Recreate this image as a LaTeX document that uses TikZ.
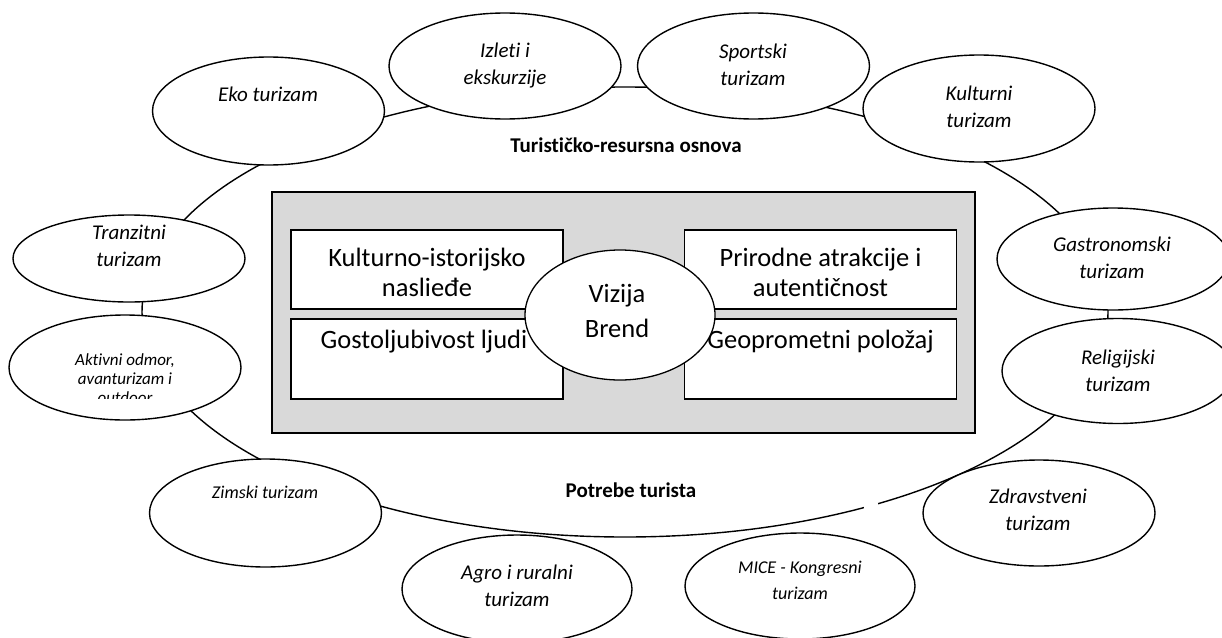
\documentclass[tikz,border=0pt]{standalone}
\usepackage{fontspec}
\setmainfont{Carlito}[Ligatures={NoCommon}]
\usetikzlibrary{shapes.geometric}
\definecolor{panel}{HTML}{D9D9D9}
\begin{document}
\begin{tikzpicture}[x=1pt,y=-1pt,
  bub/.style={draw, ellipse, fill=white, line width=1.4pt, minimum width=232pt, minimum height=106pt, inner sep=0pt},
  it/.style={font=\fontsize{21}{27}\selectfont\itshape, align=center, inner sep=0pt},
  itm/.style={font=\fontsize{18}{26}\selectfont\itshape, align=center, inner sep=0pt},
  its/.style={font=\fontsize{17}{19}\selectfont\itshape, align=center, inner sep=0pt},
  cbox/.style={draw, fill=white, line width=1.3pt, minimum width=272pt, minimum height=79pt, inner sep=0pt},
  btxt/.style={font=\fontsize{26.5}{30}\selectfont, align=center, inner sep=0pt},
  lbl/.style={font=\fontsize{21}{24}\selectfont\bfseries, inner sep=0pt}]
\useasboundingbox (0,0) rectangle (1222,637);

% outer ring
\node[draw, ellipse, line width=1.4pt, minimum width=966pt, minimum height=450pt, inner sep=0pt] (ring) at (625,312) {};
\fill[white] (864,503) rectangle (878,512);

% central panel
\node[draw, fill=panel, line width=1.6pt, minimum width=703pt, minimum height=241pt, inner sep=0pt] (core) at (623.5,312.5) {};
\node[cbox] (kih) at (427,269.5) {};
\node[cbox, minimum height=80pt] (gost) at (427,359) {};
\node[cbox] (prir) at (820.5,269.5) {};
\node[cbox, minimum height=80pt] (geo) at (820.5,359) {};
\node[btxt] (kiht) at (427,272) {Kulturno-istorijsko\\naslieđe};
\node[btxt] (gostt) at (424,342) {Gostoljubivost ljudi};
\node[btxt] (prirt) at (820.5,272) {Prirodne atrakcije i\\autentičnost};
\node[btxt] (geot) at (820.5,342) {Geoprometni položaj};
\node[draw, ellipse, fill=white, line width=1.3pt, minimum width=190pt, minimum height=130pt, inner sep=0pt] (viz) at (620,315) {};
\node[btxt, font=\fontsize{26.5}{35}\selectfont] (vizt) at (617,311) {Vizija\\Brend};

% labels
\node[lbl] (tro) at (626,145) {Turističko-resursna osnova};
\node[lbl] (pt) at (631,490) {Potrebe turista};

% satellite ellipses
\node[bub, minimum height=108pt] (eko) at (268.5,111) {};
\node[bub] (izl) at (505,66) {};
\node[bub] (spo) at (753.5,66) {};
\node[bub, minimum height=107pt] (kul) at (979,108.5) {};
\node[bub, minimum height=102pt] (gas) at (1113,259) {};
\node[bub, minimum height=105pt] (rel) at (1118,371) {};
\node[bub] (zdr) at (1039,513) {};
\node[bub, minimum width=230pt] (mic) at (800,586) {};
\node[bub, minimum width=230pt, minimum height=108pt] (agr) at (517,589) {};
\node[bub, minimum height=108pt] (zim) at (265.5,513) {};
\node[bub, minimum height=105pt] (akt) at (125,367.5) {};
\node[bub, minimum height=87pt] (tra) at (129,258.5) {};

\node[it] (ekot) at (268,94) {Eko turizam};
\node[it] (izlt) at (505,66) {Izleti i\\ekskurzije};
\node[it] (spot) at (753,65) {Sportski\\turizam};
\node[it] (kult) at (979,107) {Kulturni\\turizam};
\node[it] (gast) at (1112,258) {Gastronomski\\turizam};
\node[it] (relt) at (1118,371) {Religijski\\turizam};
\node[it] (zdrt) at (1038,510) {Zdravstveni\\turizam};
\node[itm] (mict) at (800,580) {MICE - Kongresni\\turizam};
\node[it] (agrt) at (517,586) {Agro i ruralni\\turizam};
\node[its, font=\fontsize{18}{20}\selectfont\itshape] (zimt) at (265,492) {Zimski turizam};
\node[it] (trat) at (129,246) {Tranzitni\\turizam};
\begin{scope}
  \clip (0,300) rectangle (260,398);
  \node[its] (aktt) at (125,379) {Aktivni odmor,\\avanturizam i\\outdoor};
\end{scope}
\end{tikzpicture}
\end{document}
